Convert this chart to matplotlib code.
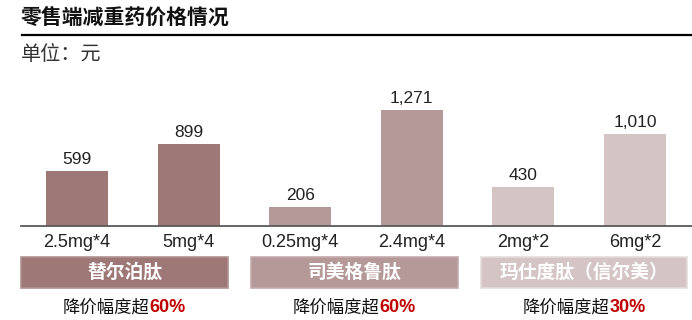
import matplotlib
matplotlib.use('Agg')
import matplotlib.pyplot as plt
from matplotlib.patches import Rectangle
from matplotlib.lines import Line2D

W, H = 692, 320

# data
doses = ['2.5mg*4', '5mg*4', '0.25mg*4', '2.4mg*4', '2mg*2', '6mg*2']
prices = [599, 899, 206, 1271, 430, 1010]
drugs = ['替尔泊肽', '司美格鲁肽', '玛仕度肽（信尔美）']
cuts = ['60%', '60%', '30%']

colors = ['#9E7876', '#B59898', '#D4C4C4']
edges = ['#B09290', '#C4ABAB', '#E6DCDC']
bar_colors = [colors[i // 2] for i in range(len(prices))]

cjk = ['Noto Sans CJK SC', 'DejaVu Sans']
num = ['Liberation Sans Narrow', 'Liberation Sans', 'DejaVu Sans']

fig = plt.figure(figsize=(W / 100, H / 100), dpi=100)

def fx(px):
    return px / W

def fy(py):
    return 1 - py / H

# title + rule + unit
fig.text(fx(21), fy(17), '零售端减重药价格情况', family=cjk, fontsize=15,
         fontweight='bold', ha='left', va='center', color='#111111')
fig.add_artist(Line2D([fx(22), fx(692)], [fy(35), fy(35)], color='black', lw=1.6))
fig.text(fx(21), fy(55), '单位：元', family=cjk, fontsize=14.5, ha='left',
         va='center', color='#333333')

# bars
ax = fig.add_axes([fx(21), fy(226), fx(692) - fx(21), (226 - 80) / H])
x = range(len(prices))
ax.bar(x, prices, width=0.556, color=bar_colors, edgecolor=bar_colors, linewidth=0)
for xi, v in zip(x, prices):
    ax.text(xi, v + 45, f'{v:,}', family=num, fontsize=12.5, ha='center',
            va='bottom', color='#222222')
ax.set_xlim(-0.502, 5.51)
ax.set_ylim(0, 1599)
for s in ['top', 'right', 'left']:
    ax.spines[s].set_visible(False)
ax.spines['bottom'].set_color('#595959')
ax.spines['bottom'].set_linewidth(1.3)
ax.set_yticks([])
ax.set_xticks(list(x))
ax.set_xticklabels(doses, family=num, fontsize=13, color='#222222')
ax.tick_params(axis='x', length=0, pad=6)

# group boxes
boxes = [(21, 228), (251, 458), (481, 687)]
fig.canvas.draw()
renderer = fig.canvas.get_renderer()
for (x0, x1), name, cut, c, e in zip(boxes, drugs, cuts, colors, edges):
    fig.add_artist(Rectangle((fx(x0), fy(288)), fx(x1) - fx(x0), (288 - 257) / H,
                             facecolor=c, edgecolor=e, lw=1.2, transform=fig.transFigure))
    cx = (x0 + x1) / 2
    fig.text(fx(cx), fy(272.5), name, family=cjk, fontsize=13.5, fontweight='bold',
             color='white', ha='center', va='center')
    t1 = fig.text(0, fy(308), '降价幅度超', family=cjk, fontsize=12.5, color='#111111',
                  ha='left', va='center')
    t2 = fig.text(0, fy(308), cut, family=num, fontsize=13, fontweight='bold',
                  color='#C00000', ha='left', va='center')
    w1 = t1.get_window_extent(renderer).width
    w2 = t2.get_window_extent(renderer).width
    start = cx - (w1 + w2) / 2
    t1.set_x(fx(start))
    t2.set_x(fx(start + w1))

fig.savefig('out.png', dpi=100)
